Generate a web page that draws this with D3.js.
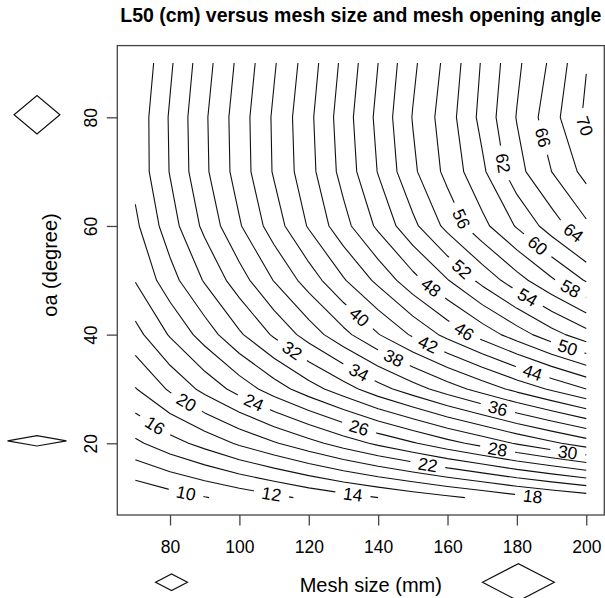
<!DOCTYPE html>
<html><head><meta charset="utf-8">
<script src="https://cdn.jsdelivr.net/npm/d3@7"></script>
<style>
body{margin:0;background:#fff}
svg{display:block}
text{font-family:"Liberation Sans",Arial,Helvetica,sans-serif;fill:#000}
</style>
</head><body>
<script>
// ---------------- data ----------------
const meshSize = [70, 80, 90, 100, 110, 120, 130, 140, 150, 160, 170, 180, 190, 200];
const openingAngle = [10, 20, 30, 40, 50, 60, 70, 80, 90];
// L50 (cm) on the grid, one array per opening angle (rows), values along mesh size
const L50_oa10 = [8.3, 9.1, 9.9, 10.7, 11.5, 12.4, 13.2, 14.0, 14.8, 15.6, 16.4, 17.3, 18.1, 18.9];
const L50_oa20 = [13.6, 15.2, 16.7, 18.3, 19.8, 21.3, 22.9, 24.4, 25.8, 27.3, 28.7, 30.2, 31.6, 33.0];
const L50_oa30 = [17.9, 20.3, 22.6, 24.8, 27.0, 29.1, 31.1, 33.2, 35.1, 37.0, 38.8, 40.6, 42.3, 44.0];
const L50_oa40 = [21.3, 24.2, 26.9, 29.7, 32.3, 34.9, 37.4, 39.9, 42.3, 44.6, 46.8, 49.0, 51.2, 53.2];
const L50_oa50 = [24.1, 27.2, 30.2, 33.1, 36.1, 38.9, 41.8, 44.5, 47.3, 49.9, 52.6, 55.2, 57.7, 60.2];
const L50_oa60 = [25.6, 29.1, 32.5, 35.8, 39.0, 42.2, 45.3, 48.4, 51.5, 54.6, 57.4, 60.2, 63.0, 65.6];
const L50_oa70 = [26.6, 30.1, 33.6, 36.9, 40.2, 43.3, 46.7, 50.1, 53.6, 56.6, 59.6, 63.3, 66.0, 68.7];
const L50_oa80 = [26.6, 30.2, 33.7, 37.0, 40.3, 43.5, 47.0, 50.5, 54.1, 57.1, 60.6, 64.1, 67.2, 70.4];
const L50_oa90 = [26.1, 29.7, 33.2, 36.5, 39.8, 43.0, 46.5, 50.0, 53.6, 56.6, 60.2, 63.6, 66.4, 69.9];
const L50Rows = [L50_oa10, L50_oa20, L50_oa30, L50_oa40, L50_oa50, L50_oa60, L50_oa70, L50_oa80, L50_oa90];

const contourLevels = [10, 12, 14, 16, 18, 20, 22, 24, 26, 28, 30, 32, 34, 36, 38, 40,
                       42, 44, 46, 48, 50, 52, 54, 56, 58, 60, 62, 64, 66, 68, 70];
// contour labels: level and the (mesh, oa) point where it sits
const labelLevel = [10, 12, 14, 16, 18, 20, 22, 24, 26, 28, 30, 32, 34, 36, 38, 40,
                    42, 44, 46, 48, 50, 52, 54, 56, 58, 60, 62, 64, 66, 70];
const labelMesh  = [84.6, 109.2, 132.7, 75.0, 184.6, 84.6, 154.3, 104.3, 134.6, 174.5, 194.7, 115.4, 134.6, 174.5, 145.2, 135.1,
                    154.8, 184.6, 165.4, 155.8, 194.7, 164.4, 183.2, 165.4, 195.2, 186.1, 176.5, 196.2, 187.1, 199.1];
const labelOa    = [10.8, 10.5, 10.5, 22.6, 10.5, 27.4, 16.0, 27.7, 23.1, 19.1, 18.5, 37.2, 33.2, 26.4, 36.6, 43.6,
                    38.7, 33.2, 41.2, 49.2, 37.8, 52.2, 47.0, 61.7, 48.2, 56.5, 71.6, 58.7, 76.2, 78.3];

const xTickValues = [80, 100, 120, 140, 160, 180, 200];
const yTickValues = [20, 40, 60, 80];
const titleText = "L50 (cm) versus mesh size and mesh opening angle";
const xTitle = "Mesh size (mm)";
const yTitle = "oa (degree)";
// mesh glyphs: [mesh size, opening angle] drawn as diamonds beside the axes
const yGlyphs = [[133, 80], [133, 20]];
const xGlyphs = [[80, 55], [180, 55]];

// ---------------- layout ----------------
const W = 605, H = 598;
const plot = {left: 117.3, right: 604.3, top: 45.6, bottom: 515};
const x = d3.scaleLinear().domain([64.8, 205.2]).range([plot.left, plot.right]);
const y = d3.scaleLinear().domain([6.8, 93.2]).range([plot.bottom, plot.top]);
const font = '"Liberation Sans",Arial,Helvetica,sans-serif';

const svg = d3.select("body").append("svg").attr("width", W).attr("height", H)
  .attr("viewBox", `0 0 ${W} ${H}`);
svg.append("rect").attr("width", W).attr("height", H).attr("fill", "#fff");
const defs = svg.append("defs");

// ---------------- contours ----------------
const nx = meshSize.length, ny = openingAngle.length;
const values = L50Rows.flat();
const gx = d3.scaleLinear().domain([0.5, nx - 0.5]).range([meshSize[0], meshSize[nx - 1]]);
const gy = d3.scaleLinear().domain([0.5, ny - 0.5]).range([openingAngle[0], openingAngle[ny - 1]]);
const contours = d3.contours().size([nx, ny]).smooth(true).thresholds(contourLevels)(values);

function isBoundary(p) { return p[0] <= 0 || p[0] >= nx || p[1] <= 0 || p[1] >= ny; }
function ringToLines(ring) {
  let pts = ring.slice();
  const f = pts[0], l = pts[pts.length - 1];
  if (pts.length > 1 && f[0] === l[0] && f[1] === l[1]) pts.pop();
  const n = pts.length;
  const start = pts.findIndex(isBoundary);
  if (start < 0) return [pts.concat([pts[0]])];
  const lines = []; let cur = [];
  for (let k = 1; k <= n; k++) {
    const p = pts[(start + k) % n];
    if (isBoundary(p)) { if (cur.length > 1) lines.push(cur); cur = []; }
    else cur.push(p);
  }
  if (cur.length > 1) lines.push(cur);
  return lines;
}

const levelLines = new Map();
contours.forEach(c => {
  const lines = [];
  c.coordinates.forEach(poly => poly.forEach(ring => {
    ringToLines(ring).forEach(line => {
      lines.push(line.map(p => [x(gx(p[0])), y(gy(p[1]))]));
    });
  }));
  levelLines.set(c.value, lines);
});

const gLines = svg.append("g");
const gLabels = svg.append("g");
const lineGen = d3.line();

// label placement
function nearestOnLines(lines, px, py) {
  let best = null;
  lines.forEach(line => {
    for (let i = 0; i < line.length - 1; i++) {
      const [ax, ay] = line[i], [bx, by] = line[i + 1];
      const dx = bx - ax, dy = by - ay;
      const L2 = dx * dx + dy * dy || 1e-9;
      let t = ((px - ax) * dx + (py - ay) * dy) / L2;
      t = Math.max(0, Math.min(1, t));
      const qx = ax + t * dx, qy = ay + t * dy;
      const d = (qx - px) ** 2 + (qy - py) ** 2;
      if (!best || d < best.d) best = {d, qx, qy, dx, dy};
    }
  });
  return best;
}

const labelFont = 17.5;
const labelsByLevel = new Map();
labelLevel.forEach((lv, i) => {
  const lines = levelLines.get(lv) || [];
  const nb = nearestOnLines(lines, x(labelMesh[i]), y(labelOa[i]));
  if (!nb) return;
  let a = Math.atan2(nb.dy, nb.dx) * 180 / Math.PI;
  if (a > 90) a -= 180;
  if (a <= -90) a += 180;
  const t = gLabels.append("text")
    .attr("transform", `translate(${nb.qx},${nb.qy}) rotate(${a})`)
    .attr("text-anchor", "middle").attr("dy", "0.36em")
    .attr("font-size", labelFont).attr("fill", "#111").text(lv);
  const w = t.node().getComputedTextLength();
  labelsByLevel.set(lv, {x: nb.qx, y: nb.qy, a, w});
});

contourLevels.forEach(lv => {
  const lines = levelLines.get(lv) || [];
  const lab = labelsByLevel.get(lv);
  let maskId = null;
  if (lab) {
    maskId = "mask" + lv;
    const m = defs.append("mask").attr("id", maskId).attr("maskUnits", "userSpaceOnUse")
      .attr("x", 0).attr("y", 0).attr("width", W).attr("height", H);
    m.append("rect").attr("width", W).attr("height", H).attr("fill", "#fff");
    const gw = lab.w + 16, gh = 14;
    m.append("rect").attr("x", -gw / 2).attr("y", -gh / 2).attr("width", gw).attr("height", gh)
      .attr("fill", "#000").attr("transform", `translate(${lab.x},${lab.y}) rotate(${lab.a})`);
  }
  lines.forEach(line => {
    const p = gLines.append("path").attr("d", lineGen(line))
      .attr("fill", "none").attr("stroke", "#111").attr("stroke-width", 1.1)
      .attr("stroke-linejoin", "round");
    if (maskId) p.attr("mask", `url(#${maskId})`);
  });
});

// ---------------- box & axes ----------------
svg.append("rect").attr("x", plot.left).attr("y", plot.top)
  .attr("width", plot.right - plot.left).attr("height", plot.bottom - plot.top)
  .attr("fill", "none").attr("stroke", "#444").attr("stroke-width", 1.3);

const xAxis = d3.axisBottom(x).tickValues(xTickValues).tickSize(10.5).tickPadding(0).tickFormat(d3.format("d"));
const gxA = svg.append("g").attr("transform", `translate(0,${plot.bottom})`).call(xAxis);
gxA.select(".domain").remove();
gxA.selectAll(".tick line").attr("stroke", "#444").attr("stroke-width", 1.3);
gxA.selectAll(".tick text").attr("font-size", 17.5).attr("font-family", font)
  .attr("fill", "#111").attr("y", 37.5).attr("dy", null);

const yAxis = d3.axisLeft(y).tickValues(yTickValues).tickSize(10.5).tickFormat(d3.format("d"));
const gyA = svg.append("g").attr("transform", `translate(${plot.left},0)`).call(yAxis);
gyA.select(".domain").remove();
gyA.selectAll(".tick line").attr("stroke", "#444").attr("stroke-width", 1.3);
gyA.selectAll(".tick text").attr("font-size", 17.5).attr("font-family", font).attr("fill", "#111")
  .attr("x", null).attr("dy", null).attr("text-anchor", "middle")
  .attr("transform", "translate(-20.8,0) rotate(-90)");

// titles
svg.append("text").attr("x", (plot.left + plot.right) / 2).attr("y", 22)
  .attr("text-anchor", "middle").attr("font-weight", "bold").attr("font-size", 19.5)
  .text(titleText);
svg.append("text").attr("x", 370.8).attr("y", 592)
  .attr("text-anchor", "middle").attr("font-size", 20).text(xTitle);
svg.append("text").attr("transform", "translate(56.5,265) rotate(-90)")
  .attr("text-anchor", "middle").attr("font-size", 20).text(yTitle);

// mesh glyphs (diamonds)
const sideScale = d3.scaleLinear().domain([0, 180]).range([0, 40.5]);
function diamond(cx, cy, mesh, oa) {
  const s = sideScale(mesh), h = oa / 2 * Math.PI / 180;
  const hw = s * Math.cos(h), hh = s * Math.sin(h);
  return `M${cx - hw},${cy}L${cx},${cy - hh}L${cx + hw},${cy}L${cx},${cy + hh}Z`;
}
yGlyphs.forEach(([m, a]) => {
  svg.append("path").attr("d", diamond(37, y(a) - 2.5, m, a))
    .attr("fill", "none").attr("stroke", "#111").attr("stroke-width", 1.2);
});
xGlyphs.forEach(([m, a]) => {
  svg.append("path").attr("d", diamond(x(m) + 1.5, 582.3, m, a))
    .attr("fill", "none").attr("stroke", "#111").attr("stroke-width", 1.2);
});
</script>
</body></html>
